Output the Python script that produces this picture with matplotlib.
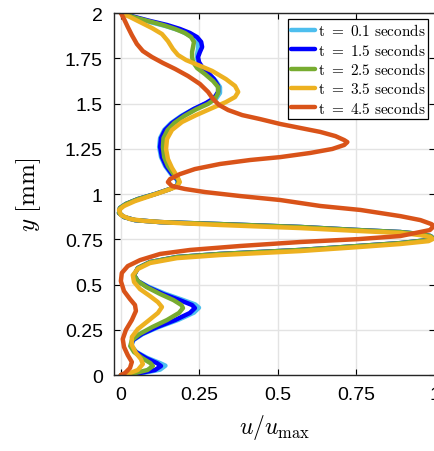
import numpy as np
import matplotlib
matplotlib.use("Agg")
from matplotlib import pyplot as plt

plt.rcParams['mathtext.fontset'] = 'cm'
plt.rcParams['font.family'] = ['Liberation Sans', 'DejaVu Sans']

# velocity profiles u/umax vs y [mm]
u_15 = [0, 0.045, 0.093, 0.147, 0.188, 0.220, 0.243, 0.256, 0.259, 0.252, 0.246, 0.249, 0.259,
        0.278, 0.297, 0.310, 0.310, 0.297, 0.272, 0.233, 0.195, 0.163, 0.141, 0.128, 0.125, 0.131,
        0.144, 0.163, 0.182, 0.182, 0.157, 0.109, 0.054, 0.016, -0.003, -0.006, 0.010, 0.045, 0.125,
        0.316, 0.572, 0.757, 0.891, 0.955, 0.987, 0.994, 0.981, 0.891, 0.757, 0.572, 0.316, 0.179,
        0.093, 0.054, 0.042, 0.054, 0.086, 0.134, 0.188, 0.227, 0.236, 0.220, 0.173, 0.115, 0.067,
        0.038, 0.032, 0.048, 0.080, 0.115, 0.128, 0.109, 0.061, 0]
y_15 = [2.0, 1.978, 1.956, 1.934, 1.912, 1.890, 1.867, 1.840, 1.812, 1.785, 1.757, 1.729, 1.702,
        1.669, 1.635, 1.597, 1.564, 1.530, 1.503, 1.470, 1.431, 1.392, 1.354, 1.309, 1.260, 1.204,
        1.155, 1.110, 1.077, 1.050, 1.028, 1.000, 0.972, 0.945, 0.923, 0.895, 0.873, 0.856, 0.845,
        0.834, 0.818, 0.801, 0.790, 0.779, 0.768, 0.757, 0.746, 0.729, 0.713, 0.691, 0.669, 0.652,
        0.624, 0.591, 0.552, 0.519, 0.486, 0.448, 0.414, 0.387, 0.370, 0.343, 0.304, 0.265, 0.227,
        0.193, 0.160, 0.127, 0.094, 0.066, 0.050, 0.028, 0.011, 0]

u_01 = [0, 0.045, 0.093, 0.147, 0.188, 0.215, 0.236, 0.246, 0.246, 0.243, 0.243, 0.249, 0.262,
        0.284, 0.303, 0.316, 0.316, 0.303, 0.272, 0.230, 0.192, 0.160, 0.138, 0.125, 0.122, 0.128,
        0.141, 0.160, 0.180, 0.181, 0.157, 0.109, 0.054, 0.016, -0.003, -0.006, 0.010, 0.045, 0.125,
        0.316, 0.572, 0.757, 0.891, 0.955, 0.987, 0.994, 0.981, 0.891, 0.757, 0.572, 0.316, 0.179,
        0.093, 0.054, 0.042, 0.054, 0.088, 0.140, 0.196, 0.237, 0.249, 0.233, 0.183, 0.120, 0.070,
        0.040, 0.033, 0.050, 0.085, 0.125, 0.142, 0.125, 0.070, 0]
y_01 = [2.0, 1.975, 1.950, 1.926, 1.903, 1.880, 1.856, 1.829, 1.801, 1.773, 1.746, 1.718, 1.691,
        1.657, 1.624, 1.591, 1.558, 1.525, 1.500, 1.468, 1.431, 1.392, 1.354, 1.309, 1.260, 1.204,
        1.155, 1.110, 1.077, 1.050, 1.028, 1.000, 0.972, 0.945, 0.923, 0.895, 0.873, 0.856, 0.845,
        0.834, 0.818, 0.801, 0.790, 0.779, 0.768, 0.757, 0.746, 0.729, 0.713, 0.691, 0.669, 0.652,
        0.624, 0.591, 0.552, 0.519, 0.488, 0.450, 0.416, 0.390, 0.372, 0.345, 0.305, 0.265, 0.227,
        0.193, 0.160, 0.127, 0.094, 0.066, 0.052, 0.030, 0.011, 0]

u_25 = [0, 0.040, 0.086, 0.134, 0.173, 0.204, 0.224, 0.233, 0.230, 0.227, 0.227, 0.230, 0.243,
        0.268, 0.294, 0.310, 0.310, 0.300, 0.278, 0.240, 0.202, 0.170, 0.149, 0.136, 0.134, 0.138,
        0.150, 0.168, 0.184, 0.182, 0.157, 0.109, 0.054, 0.016, -0.003, -0.006, 0.010, 0.045, 0.125,
        0.316, 0.572, 0.757, 0.891, 0.955, 0.987, 0.994, 0.981, 0.891, 0.757, 0.572, 0.316, 0.179,
        0.093, 0.054, 0.042, 0.054, 0.082, 0.125, 0.168, 0.193, 0.198, 0.185, 0.147, 0.100, 0.060,
        0.035, 0.030, 0.042, 0.068, 0.094, 0.102, 0.085, 0.045, 0]
y_25 = [2.0, 1.978, 1.956, 1.934, 1.912, 1.890, 1.867, 1.840, 1.812, 1.785, 1.757, 1.729, 1.696,
        1.663, 1.624, 1.591, 1.558, 1.525, 1.498, 1.468, 1.431, 1.392, 1.354, 1.309, 1.260, 1.204,
        1.155, 1.110, 1.077, 1.050, 1.028, 1.000, 0.972, 0.945, 0.923, 0.895, 0.873, 0.856, 0.845,
        0.834, 0.818, 0.801, 0.790, 0.779, 0.768, 0.757, 0.746, 0.729, 0.713, 0.691, 0.669, 0.652,
        0.624, 0.591, 0.552, 0.519, 0.486, 0.448, 0.414, 0.387, 0.370, 0.343, 0.304, 0.265, 0.227,
        0.193, 0.160, 0.127, 0.094, 0.066, 0.050, 0.028, 0.011, 0]

u_35 = [0, 0.029, 0.061, 0.099, 0.131, 0.150, 0.166, 0.182, 0.208, 0.246, 0.291, 0.335, 0.364,
        0.374, 0.364, 0.335, 0.291, 0.240, 0.195, 0.163, 0.147, 0.144, 0.150, 0.163, 0.179, 0.188,
        0.176, 0.141, 0.093, 0.045, 0.010, -0.006, 0, 0.029, 0.077, 0.179, 0.316, 0.572, 0.757,
        0.891, 0.955, 0.987, 0.994, 0.981, 0.891, 0.757, 0.572, 0.316, 0.179, 0.093, 0.054, 0.038,
        0.042, 0.061, 0.093, 0.118, 0.131, 0.118, 0.086, 0.054, 0.035, 0.035, 0.048, 0.064, 0.070,
        0.054, 0.029, 0]
y_35 = [2.0, 1.978, 1.950, 1.917, 1.884, 1.845, 1.801, 1.768, 1.740, 1.713, 1.680, 1.635, 1.597,
        1.564, 1.536, 1.508, 1.475, 1.436, 1.398, 1.354, 1.304, 1.249, 1.193, 1.144, 1.099, 1.066,
        1.039, 1.017, 0.989, 0.961, 0.934, 0.912, 0.884, 0.862, 0.851, 0.840, 0.829, 0.812, 0.796,
        0.785, 0.773, 0.762, 0.751, 0.740, 0.724, 0.707, 0.685, 0.663, 0.646, 0.619, 0.586, 0.552,
        0.514, 0.475, 0.436, 0.403, 0.376, 0.343, 0.298, 0.254, 0.210, 0.166, 0.122, 0.088, 0.061,
        0.028, 0.011, 0]

u_45 = [0, 0.010, 0.022, 0.035, 0.051, 0.070, 0.099, 0.134, 0.173, 0.214, 0.252, 0.278, 0.294,
        0.313, 0.342, 0.387, 0.444, 0.508, 0.572, 0.636, 0.684, 0.712, 0.722, 0.712, 0.674, 0.604,
        0.508, 0.412, 0.316, 0.236, 0.188, 0.157, 0.150, 0.163, 0.204, 0.268, 0.380, 0.508, 0.636,
        0.764, 0.891, 0.955, 0.990, 0.998, 0.985, 0.939, 0.891, 0.757, 0.572, 0.380, 0.220, 0.125,
        0.061, 0.022, 0.003, 0, 0.010, 0.029, 0.045, 0.048, 0.035, 0.016, 0.006, 0.010, 0.022,
        0.035, 0.029, 0.013, 0]
y_45 = [2.0, 1.967, 1.923, 1.878, 1.829, 1.790, 1.757, 1.724, 1.691, 1.652, 1.608, 1.564, 1.525,
        1.492, 1.464, 1.436, 1.414, 1.387, 1.365, 1.343, 1.320, 1.298, 1.287, 1.271, 1.249, 1.227,
        1.204, 1.188, 1.166, 1.138, 1.110, 1.083, 1.066, 1.044, 1.028, 1.011, 0.989, 0.967, 0.934,
        0.912, 0.878, 0.856, 0.834, 0.823, 0.801, 0.785, 0.768, 0.751, 0.735, 0.713, 0.691, 0.669,
        0.635, 0.602, 0.564, 0.519, 0.464, 0.420, 0.387, 0.354, 0.304, 0.249, 0.199, 0.155, 0.110,
        0.072, 0.039, 0.011, 0]

labels = ['t = 0.1 seconds', 't = 1.5 seconds', 't = 2.5 seconds', 't = 3.5 seconds', 't = 4.5 seconds']
colors = ['#4DBEEE', '#0000FF', '#77AC30', '#EDB120', '#D95319']

xticks = [0, 0.25, 0.5, 0.75, 1]
xticklabels = ['0', '0.25', '0.5', '0.75', '1']
yticks = [0, 0.25, 0.5, 0.75, 1, 1.25, 1.5, 1.75, 2]
yticklabels = ['0', '0.25', '0.5', '0.75', '1', '1.25', '1.5', '1.75', '2']

fig = plt.figure(figsize=(4.35, 4.52), dpi=100)
ax = fig.add_axes([0.262, 0.168, 0.737, 0.801])

us = [u_01, u_15, u_25, u_35, u_45]
ys = [y_01, y_15, y_25, y_35, y_45]
for u, y, c, lab in zip(us, ys, colors, labels):
    ax.plot(u, y, color=c, lw=3.2, solid_capstyle='round', solid_joinstyle='round',
            label=r'$\mathrm{' + lab.replace(' ', r'\ ') + '}$')

ax.set_xlim(-0.022, 1.0)
ax.set_ylim(0, 2)
ax.set_xticks(xticks)
ax.set_xticklabels(xticklabels)
ax.set_yticks(yticks)
ax.set_yticklabels(yticklabels)
ax.tick_params(direction='in', top=True, right=True, length=4, width=0.8, labelsize=14)
ax.tick_params(axis='x', pad=8)
ax.tick_params(axis='y', pad=8)
ax.grid(True, color='#e3e3e3', lw=1)
ax.set_axisbelow(True)
for s in ax.spines.values():
    s.set_linewidth(1)
    s.set_color('#262626')

ax.set_xlabel(r'$u/u_{\mathrm{max}}$', fontsize=17, labelpad=6)
ax.set_ylabel(r'$y\ [\mathrm{mm}]$', fontsize=18, labelpad=16)

leg = ax.legend(loc='upper right', fontsize=11, handlelength=1.6, handletextpad=0.15,
                borderpad=0.2, labelspacing=0.22, borderaxespad=0.4, fancybox=False,
                framealpha=1, edgecolor='black')
leg.get_frame().set_linewidth(0.9)

plt.savefig('out.png', dpi=100)
